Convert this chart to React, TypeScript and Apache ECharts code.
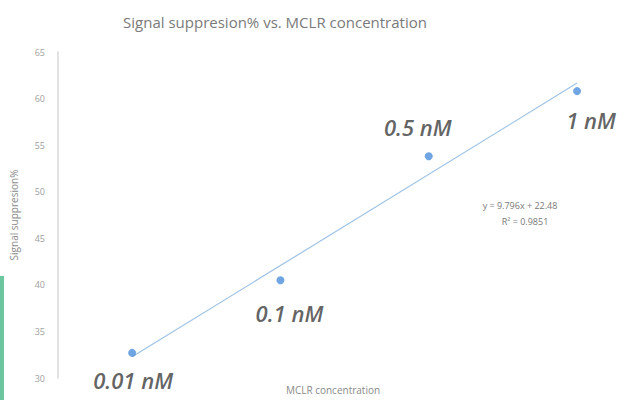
import React, { useEffect, useRef } from "react";
import * as echarts from "echarts";

const xIndex = [1, 2, 3, 4];
const concentrations = ["0.01 nM", "0.1 nM", "0.5 nM", "1 nM"];
const suppression = [32.7, 40.5, 53.8, 60.8];
const trendX = [1, 4];
const trendY = [32.28, 61.66];
const yTicks = { min: 30, max: 65, interval: 5 };
const xRange = { min: 0.5, max: 4.33 };
const equationLines = ["y = 9.796x + 22.48", "R\u00B2 = 0.9851"];

const labelOffsets: [number, number][] = [
  [1, 27],
  [9, 33],
  [-11, -29],
  [14, 29],
];

export default function App() {
  const ref = useRef<HTMLDivElement>(null);
  useEffect(() => {
    if (!ref.current) return;
    const chart = echarts.init(ref.current, null, { renderer: "svg" });
    const font = "'Open Sans', 'Liberation Sans', sans-serif";
    chart.setOption({
      animation: false,
      backgroundColor: "#ffffff",
      grid: { left: 58, top: 52, bottom: 22, right: 0, containLabel: false },
      xAxis: {
        type: "value",
        min: xRange.min,
        max: xRange.max,
        show: false,
      },
      yAxis: {
        type: "value",
        min: yTicks.min,
        max: yTicks.max,
        interval: yTicks.interval,
        name: "Signal suppresion%",
        nameLocation: "middle",
        nameGap: 39,
        nameTextStyle: { color: "#8a8a8a", fontSize: 10, fontFamily: font },
        axisLine: { show: true, lineStyle: { color: "#d9d9d9", width: 1.5 } },
        axisTick: { show: false },
        splitLine: { show: false },
        axisLabel: { color: "#a0a0a0", fontSize: 9, fontFamily: font, margin: 13 },
      },
      series: [
        {
          type: "line",
          data: trendX.map((x, i) => [x, trendY[i]]),
          symbol: "none",
          lineStyle: { color: "#9dc3e6", width: 1.2 },
          silent: true,
          z: 1,
        },
        {
          type: "scatter",
          symbolSize: 8,
          itemStyle: { color: "#4a8fdb" },
          z: 3,
          data: xIndex.map((x, i) => ({
            value: [x, suppression[i]],
            name: concentrations[i],
            label: {
              show: true,
              position: "inside",
              offset: labelOffsets[i],
              formatter: concentrations[i],
              color: "#3a3a3a",
              fontSize: 22,
              fontStyle: "italic",
              fontWeight: 600,
              fontFamily: font,
            },
          })),
        },
      ],
      graphic: [
        {
          type: "text",
          x: 275,
          y: 22,
          style: {
            text: "Signal suppresion% vs. MCLR concentration",
            fill: "#7a7a7a",
            font: `15px ${font}`,
            textAlign: "center",
            textVerticalAlign: "middle",
          },
        },
        {
          type: "text",
          x: 333,
          y: 390,
          style: {
            text: "MCLR concentration",
            fill: "#8a8a8a",
            font: `10px ${font}`,
            textAlign: "center",
            textVerticalAlign: "middle",
          },
        },
        {
          type: "text",
          x: 520,
          y: 205,
          style: {
            text: equationLines[0],
            fill: "#7a7a7a",
            font: `9px ${font}`,
            textAlign: "center",
            textVerticalAlign: "middle",
          },
        },
        {
          type: "text",
          x: 525,
          y: 221,
          style: {
            text: equationLines[1],
            fill: "#7a7a7a",
            font: `9px ${font}`,
            textAlign: "center",
            textVerticalAlign: "middle",
          },
        },
        {
          type: "rect",
          shape: { x: 0, y: 276, width: 4, height: 124 },
          style: { fill: "#6cc6a0" },
        },
      ],
    });
    return () => chart.dispose();
  }, []);
  return (
    <div
      ref={ref}
      style={{ position: "fixed", left: 0, top: 0, width: 626, height: 400 }}
    />
  );
}
